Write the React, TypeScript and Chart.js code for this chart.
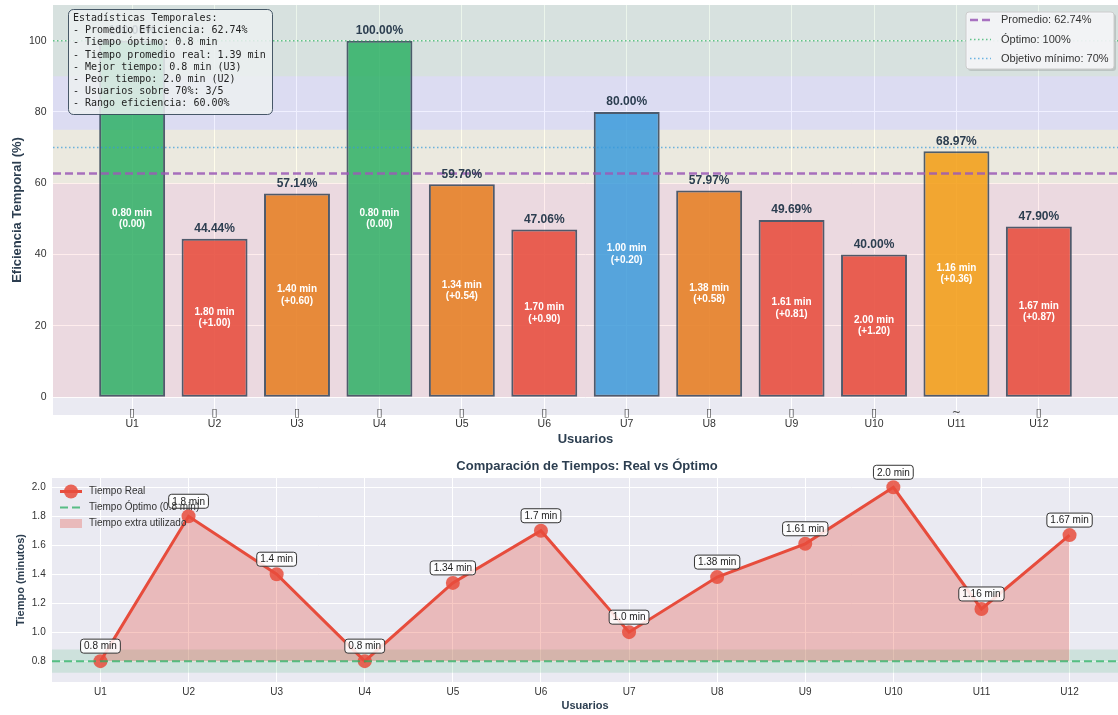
import React, { useEffect, useRef } from 'react';
import { Chart, registerables } from 'chart.js';

Chart.register(...registerables);

// ---------- data ----------
const users = ['U1', 'U2', 'U3', 'U4', 'U5', 'U6', 'U7', 'U8', 'U9', 'U10', 'U11', 'U12'];
const userIcons = ['▯', '▯', '▯', '▯', '▯', '▯', '▯', '▯', '▯', '▯', '~', '▯'];
const efficiency = [100.0, 44.44, 57.14, 100.0, 59.7, 47.06, 80.0, 57.97, 49.69, 40.0, 68.97, 47.9];
const realTimes = [0.8, 1.8, 1.4, 0.8, 1.34, 1.7, 1.0, 1.38, 1.61, 2.0, 1.16, 1.67];
const optimalTime = 0.8;
const optimalBand = 0.08;
const meanEfficiency = 62.74;
const optimalEfficiency = 100;
const targetEfficiency = 70;
const efficiencyTicks = [0, 20, 40, 60, 80, 100];
const timeTicks = [0.8, 1.0, 1.2, 1.4, 1.6, 1.8, 2.0];
const efficiencyBands = [
  { from: 90, to: 110, color: 'rgba(0,128,0,0.08)' },
  { from: 75, to: 90, color: 'rgba(0,0,255,0.06)' },
  { from: 60, to: 75, color: 'rgba(255,230,0,0.08)' },
  { from: 0, to: 60, color: 'rgba(255,0,0,0.07)' },
];
const statsLines = [
  'Estadísticas Temporales:',
  '- Promedio Eficiencia: 62.74%',
  '- Tiempo óptimo: 0.8 min',
  '- Tiempo promedio real: 1.39 min',
  '- Mejor tiempo: 0.8 min (U3)',
  '- Peor tiempo: 2.0 min (U2)',
  '- Usuarios sobre 70%: 3/5',
  '- Rango eficiencia: 60.00%',
];
const topLegendLabels = ['Promedio: 62.74%', 'Óptimo: 100%', 'Objetivo mínimo: 70%'];
const bottomLegendLabels = ['Tiempo Real', 'Tiempo Óptimo (0.8 min)', 'Tiempo extra utilizado'];
const bottomTitle = 'Comparación de Tiempos: Real vs Óptimo';

// ---------- styles ----------
const SANS = "'Liberation Sans', Arial, sans-serif";
const MONO = "'DejaVu Sans Mono', monospace";
const DARK = '#2c3e50';
const BG = '#eaeaf2';

const barColor = (v: number) =>
  v >= 90 ? 'rgba(39,174,96,0.82)'
    : v >= 75 ? 'rgba(52,152,219,0.82)'
      : v >= 60 ? 'rgba(243,156,18,0.85)'
        : v >= 50 ? 'rgba(230,126,34,0.88)'
          : 'rgba(231,76,60,0.88)';

const fmtTime = (t: number) => (Number.isInteger(t) ? t.toFixed(1) : String(t));
const fmtDiff = (d: number) => (d > 0.0001 ? '+' + d.toFixed(2) : Math.abs(d).toFixed(2));

function roundRect(ctx: CanvasRenderingContext2D, x: number, y: number, w: number, h: number, r: number) {
  ctx.beginPath();
  ctx.moveTo(x + r, y);
  ctx.arcTo(x + w, y, x + w, y + h, r);
  ctx.arcTo(x + w, y + h, x, y + h, r);
  ctx.arcTo(x, y + h, x, y, r);
  ctx.arcTo(x, y, x + w, y, r);
  ctx.closePath();
}

function hLine(ctx: CanvasRenderingContext2D, x1: number, x2: number, y: number, color: string, width: number, dash: number[]) {
  ctx.save();
  ctx.strokeStyle = color;
  ctx.lineWidth = width;
  ctx.setLineDash(dash);
  ctx.beginPath();
  ctx.moveTo(x1, y);
  ctx.lineTo(x2, y);
  ctx.stroke();
  ctx.restore();
}

const bgPlugin = {
  id: 'bgArea',
  beforeDraw(chart: any) {
    const { ctx, chartArea: a } = chart;
    ctx.save();
    ctx.fillStyle = BG;
    ctx.fillRect(a.left, a.top, a.right - a.left, a.bottom - a.top);
    ctx.restore();
  },
};

const topPlugin = {
  id: 'topDecor',
  beforeDatasetsDraw(chart: any) {
    const { ctx, chartArea: a, scales } = chart;
    const y = scales.y;
    ctx.save();
    efficiencyBands.forEach((b) => {
      const y1 = Math.max(y.getPixelForValue(b.to), a.top);
      const y2 = y.getPixelForValue(b.from);
      ctx.fillStyle = b.color;
      ctx.fillRect(a.left, y1, a.right - a.left, y2 - y1);
    });
    ctx.restore();
  },
  afterDatasetsDraw(chart: any) {
    const { ctx, chartArea: a, scales } = chart;
    const y = scales.y;
    const x = scales.x;
    hLine(ctx, a.left, a.right, y.getPixelForValue(meanEfficiency), 'rgba(155,89,182,0.85)', 2.5, [8, 4]);
    hLine(ctx, a.left, a.right, y.getPixelForValue(optimalEfficiency), 'rgba(39,174,96,0.7)', 1.5, [1.5, 2.5]);
    hLine(ctx, a.left, a.right, y.getPixelForValue(targetEfficiency), 'rgba(52,152,219,0.7)', 1.5, [1.5, 2.5]);

    const meta = chart.getDatasetMeta(0);
    ctx.save();
    ctx.textAlign = 'center';
    ctx.textBaseline = 'middle';
    meta.data.forEach((bar: any, i: number) => {
      ctx.fillStyle = DARK;
      ctx.font = `bold 12px ${SANS}`;
      ctx.fillText(efficiency[i].toFixed(2) + '%', bar.x, bar.y - 10);
      const mid = y.getPixelForValue(efficiency[i] / 2);
      ctx.fillStyle = '#ffffff';
      ctx.font = `bold 10px ${SANS}`;
      ctx.fillText(realTimes[i].toFixed(2) + ' min', bar.x, mid - 6);
      ctx.fillText('(' + fmtDiff(realTimes[i] - optimalTime) + ')', bar.x, mid + 5.5);
    });
    // user icons (first line of tick labels)
    ctx.fillStyle = '#444444';
    ctx.font = `11px 'DejaVu Sans', sans-serif`;
    users.forEach((_, i) => {
      ctx.fillText(userIcons[i], x.getPixelForValue(i), a.bottom - 1.5);
    });
    ctx.restore();

    // legend (top right)
    ctx.save();
    const lx = 966, ly = 12, lw = 148, lh = 57;
    ctx.fillStyle = 'rgba(0,0,0,0.12)';
    roundRect(ctx, lx + 2, ly + 2, lw, lh, 3);
    ctx.fill();
    ctx.fillStyle = 'rgba(246,246,250,0.92)';
    roundRect(ctx, lx, ly, lw, lh, 3);
    ctx.fill();
    ctx.strokeStyle = '#cccccc';
    ctx.lineWidth = 1;
    ctx.stroke();
    const rows = [20, 39.5, 58.5];
    hLine(ctx, 970, 991, rows[0], 'rgba(155,89,182,0.85)', 2.5, [8, 4]);
    hLine(ctx, 970, 991, rows[1], 'rgba(39,174,96,0.7)', 1.5, [1.5, 2.5]);
    hLine(ctx, 970, 991, rows[2], 'rgba(52,152,219,0.7)', 1.5, [1.5, 2.5]);
    ctx.fillStyle = '#333333';
    ctx.font = `11px ${SANS}`;
    ctx.textAlign = 'left';
    ctx.textBaseline = 'middle';
    topLegendLabels.forEach((t, i) => ctx.fillText(t, 1001, rows[i]));
    ctx.restore();

    // stats box
    ctx.save();
    roundRect(ctx, 68.5, 9.5, 204, 105, 5);
    ctx.fillStyle = 'rgba(236,240,241,0.85)';
    ctx.fill();
    ctx.strokeStyle = 'rgba(44,62,80,0.85)';
    ctx.lineWidth = 1;
    ctx.stroke();
    ctx.fillStyle = '#222222';
    ctx.font = `10px ${MONO}`;
    ctx.textAlign = 'left';
    ctx.textBaseline = 'middle';
    statsLines.forEach((t, i) => ctx.fillText(t, 73, 18.5 + i * 12.15));
    ctx.restore();
  },
};

const bottomPlugin = {
  id: 'bottomDecor',
  beforeDatasetsDraw(chart: any) {
    const { ctx, chartArea: a, scales } = chart;
    const y = scales.y;
    const y1 = y.getPixelForValue(optimalTime + optimalBand);
    const y2 = y.getPixelForValue(optimalTime - optimalBand);
    ctx.save();
    ctx.fillStyle = 'rgba(39,174,96,0.15)';
    ctx.fillRect(a.left, y1, a.right - a.left, y2 - y1);
    ctx.restore();
  },
  afterDatasetsDraw(chart: any) {
    const { ctx, chartArea: a, scales } = chart;
    const y = scales.y;
    hLine(ctx, a.left, a.right, y.getPixelForValue(optimalTime), 'rgba(39,174,96,0.75)', 2, [8, 4]);

    const meta = chart.getDatasetMeta(0);
    ctx.save();
    ctx.font = `10px ${SANS}`;
    ctx.textAlign = 'center';
    ctx.textBaseline = 'middle';
    meta.data.forEach((pt: any, i: number) => {
      const text = fmtTime(realTimes[i]) + ' min';
      const w = ctx.measureText(text).width + 7;
      const cy = pt.y - 15;
      roundRect(ctx, pt.x - w / 2, cy - 7, w, 14, 3);
      ctx.fillStyle = 'rgba(255,255,255,0.85)';
      ctx.fill();
      ctx.strokeStyle = '#333333';
      ctx.lineWidth = 1;
      ctx.stroke();
      ctx.fillStyle = '#222222';
      ctx.fillText(text, pt.x, cy + 0.5);
    });
    ctx.restore();

    // legend
    ctx.save();
    const rows = [39.5, 55.5, 71.5];
    hLine(ctx, 60, 82, rows[0], '#e74c3c', 3, []);
    ctx.fillStyle = 'rgba(231,76,60,0.85)';
    ctx.beginPath();
    ctx.arc(71, rows[0], 7, 0, Math.PI * 2);
    ctx.fill();
    hLine(ctx, 60, 82, rows[1], 'rgba(39,174,96,0.75)', 2, [8, 4]);
    ctx.fillStyle = 'rgba(231,76,60,0.3)';
    ctx.fillRect(60, rows[2] - 4.5, 22, 9);
    ctx.fillStyle = '#333333';
    ctx.font = `10px ${SANS}`;
    ctx.textAlign = 'left';
    ctx.textBaseline = 'middle';
    bottomLegendLabels.forEach((t, i) => ctx.fillText(t, 89, rows[i]));
    ctx.restore();

    // title
    ctx.save();
    ctx.fillStyle = DARK;
    ctx.font = `bold 13px ${SANS}`;
    ctx.textAlign = 'center';
    ctx.textBaseline = 'middle';
    ctx.fillText(bottomTitle, (a.left + a.right) / 2 + 2, 14.5);
    ctx.restore();
  },
};

export default function App() {
  const topRef = useRef<HTMLCanvasElement>(null);
  const bottomRef = useRef<HTMLCanvasElement>(null);

  useEffect(() => {
    const topChart = new Chart(topRef.current as HTMLCanvasElement, {
      type: 'bar',
      data: {
        datasets: [
          {
            data: efficiency.map((v, i) => ({ x: i, y: v })),
            backgroundColor: efficiency.map(barColor),
            borderColor: 'rgba(44,62,80,0.82)',
            borderWidth: 2,
            borderSkipped: false,
            barPercentage: 0.8,
            categoryPercentage: 1,
          } as any,
        ],
      },
      options: {
        animation: false,
        responsive: false,
        maintainAspectRatio: false,
        layout: { autoPadding: false, padding: { top: 5, left: 0, right: 0, bottom: 0 } },
        plugins: { legend: { display: false }, tooltip: { enabled: false } },
        scales: {
          x: {
            type: 'linear',
            min: -0.96,
            max: 11.96,
            offset: false,
            border: { display: false },
            grid: { color: '#ffffff', lineWidth: 1, drawTicks: false, offset: false },
            afterBuildTicks: (s: any) => { s.ticks = users.map((_, i) => ({ value: i })); },
            ticks: {
              autoSkip: false,
              maxRotation: 0,
              padding: 3,
              color: '#333333',
              font: { family: SANS, size: 10.5, lineHeight: 1.2 },
              callback: (v: any) => users[v],
            },
            title: {
              display: true,
              text: 'Usuarios',
              color: DARK,
              font: { family: SANS, size: 13, weight: 'bold' },
              padding: { top: 0, bottom: 5 },
            },
            afterFit: (s: any) => { s.height = 37; s.paddingLeft = 0; s.paddingRight = 0; },
          } as any,
          y: {
            min: -5,
            max: 110,
            border: { display: false },
            grid: { color: '#ffffff', lineWidth: 1, drawTicks: false },
            afterBuildTicks: (s: any) => { s.ticks = efficiencyTicks.map((v) => ({ value: v })); },
            ticks: { padding: 6.5, color: '#333333', font: { family: SANS, size: 10.5 } },
            title: {
              display: true,
              text: 'Eficiencia Temporal (%)',
              color: DARK,
              font: { family: SANS, size: 13, weight: 'bold' },
              padding: { top: 10, bottom: 0 },
            },
            afterFit: (s: any) => { s.width = 53; s.paddingTop = 0; s.paddingBottom = 0; },
          } as any,
        },
      },
      plugins: [bgPlugin, topPlugin],
    });

    const bottomChart = new Chart(bottomRef.current as HTMLCanvasElement, {
      type: 'line',
      data: {
        datasets: [
          {
            label: bottomLegendLabels[0],
            data: realTimes.map((t, i) => ({ x: i, y: t })),
            borderColor: '#e74c3c',
            borderWidth: 3,
            tension: 0,
            pointRadius: 7,
            pointBackgroundColor: 'rgba(231,76,60,0.85)',
            pointBorderColor: 'rgba(231,76,60,0.85)',
            pointBorderWidth: 0,
            fill: { value: optimalTime },
            backgroundColor: 'rgba(231,76,60,0.3)',
          } as any,
        ],
      },
      options: {
        animation: false,
        responsive: false,
        maintainAspectRatio: false,
        layout: { autoPadding: false, padding: { top: 26, left: 0, right: 0, bottom: 0 } },
        plugins: { legend: { display: false }, tooltip: { enabled: false } },
        scales: {
          x: {
            type: 'linear',
            min: -0.55,
            max: 11.55,
            offset: false,
            border: { display: false },
            grid: { color: '#ffffff', lineWidth: 1, drawTicks: false, offset: false },
            afterBuildTicks: (s: any) => { s.ticks = users.map((_, i) => ({ value: i })); },
            ticks: {
              autoSkip: false,
              maxRotation: 0,
              padding: 4,
              color: '#333333',
              font: { family: SANS, size: 10, lineHeight: 1.2 },
              callback: (v: any) => users[v],
            },
            title: {
              display: true,
              text: 'Usuarios',
              color: DARK,
              font: { family: SANS, size: 11, weight: 'bold' },
              padding: { top: 0, bottom: 2.4 },
            },
            afterFit: (s: any) => { s.height = 33; s.paddingLeft = 0; s.paddingRight = 0; },
          } as any,
          y: {
            min: 0.656,
            max: 2.064,
            border: { display: false },
            grid: { color: '#ffffff', lineWidth: 1, drawTicks: false },
            afterBuildTicks: (s: any) => { s.ticks = timeTicks.map((v) => ({ value: v })); },
            ticks: {
              padding: 6.3,
              color: '#333333',
              font: { family: SANS, size: 10 },
              callback: (v: any) => Number(v).toFixed(1),
            },
            title: {
              display: true,
              text: 'Tiempo (minutos)',
              color: DARK,
              font: { family: SANS, size: 11, weight: 'bold' },
              padding: { top: 14, bottom: 0 },
            },
            afterFit: (s: any) => { s.width = 52; s.paddingTop = 0; s.paddingBottom = 0; },
          } as any,
        },
      },
      plugins: [bgPlugin, bottomPlugin],
    });

    return () => {
      topChart.destroy();
      bottomChart.destroy();
    };
  }, []);

  return (
    <div style={{ position: 'fixed', left: 0, top: 0, width: 1118, height: 715, background: '#ffffff' }}>
      <canvas ref={topRef} width={1118} height={452} style={{ position: 'absolute', left: 0, top: 0, width: 1118, height: 452 }} />
      <canvas ref={bottomRef} width={1118} height={263} style={{ position: 'absolute', left: 0, top: 452, width: 1118, height: 263 }} />
    </div>
  );
}
